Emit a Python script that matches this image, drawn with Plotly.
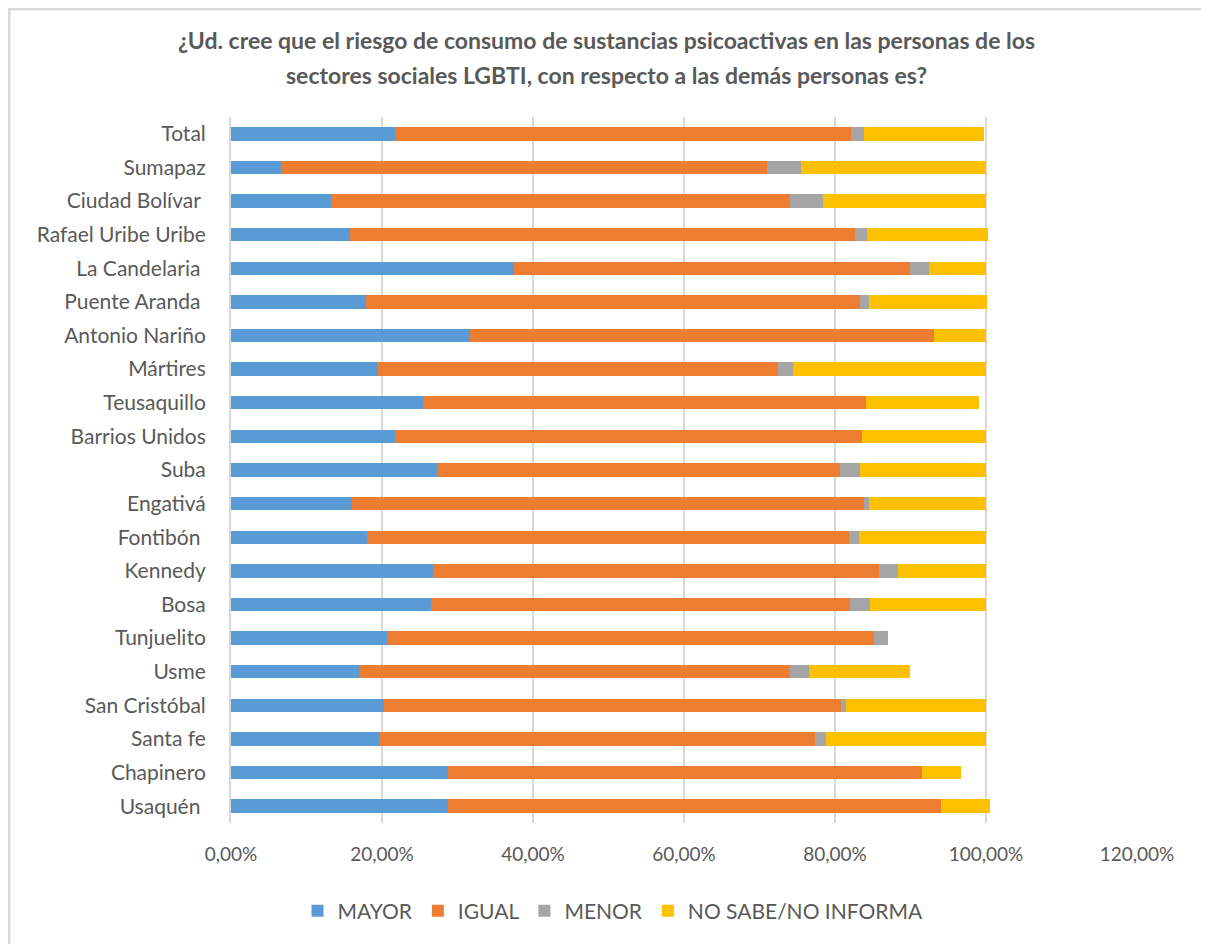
import plotly.graph_objects as go

categories = ["Total", "Sumapaz", "Ciudad Bolívar\u00a0", "Rafael Uribe Uribe", "La Candelaria\u00a0",
              "Puente Aranda\u00a0", "Antonio Nariño", "Mártires", "Teusaquillo", "Barrios Unidos",
              "Suba", "Engativá", "Fontibón\u00a0", "Kennedy", "Bosa", "Tunjuelito", "Usme",
              "San Cristóbal", "Santa fe", "Chapinero", "Usaquén\u00a0"]

mayor = [21.7, 6.65, 13.2, 15.8, 37.5, 17.9, 31.6, 19.5, 25.4, 21.7, 27.3, 16.0, 18.0, 26.7, 26.5,
         20.6, 16.9, 20.2, 19.6, 28.8, 28.8]
igual = [60.4, 64.4, 60.8, 66.8, 52.4, 65.4, 61.5, 53.0, 58.7, 61.9, 53.3, 67.9, 63.8, 59.1, 55.5,
         64.5, 57.1, 60.6, 57.7, 62.7, 65.3]
menor = [1.8, 4.5, 4.4, 1.6, 2.6, 1.2, 0.0, 2.0, 0.0, 0.0, 2.7, 0.6, 1.4, 2.6, 2.6,
         1.9, 2.6, 0.6, 1.5, 0.0, 0.0]
nsni = [15.9, 24.4, 21.6, 16.0, 7.5, 15.6, 6.9, 25.5, 15.0, 16.4, 16.7, 15.5, 16.8, 11.6, 15.4,
        0.0, 13.3, 18.6, 21.2, 5.2, 6.4]

title_lines = ["¿Ud. cree que el riesgo de consumo de sustancias psicoactivas en las personas de los",
               "sectores sociales LGBTI, con respecto a las demás personas es?"]

series = [("MAYOR", mayor, "#5B9BD5"), ("IGUAL", igual, "#ED7D31"),
          ("MENOR", menor, "#A5A5A5"), ("NO SABE/NO INFORMA", nsni, "#FFC000")]

fig = go.Figure()
for name, vals, color in series:
    fig.add_trace(go.Bar(
        y=categories, x=[v / 100 for v in vals], name=name, orientation="h",
        marker=dict(color=color, line=dict(width=0)),
    ))

# page body has an 8px margin; compensate so page coordinates match
OFF = 8
W, H = 1209 - OFF, 944 - OFF
ml, mr, mt, mb = 231 - OFF, 72, 117 - OFF, 121
pw, ph = W - ml - mr, H - mt - mb


def px_to_paper_x(page_x):
    return (page_x - OFF - ml) / pw


def px_to_paper_y(page_y):
    return (H - mb - (page_y - OFF)) / ph


fig.update_layout(
    width=W, height=H, barmode="stack", bargap=0.6,
    separators=",.",
    paper_bgcolor="white", plot_bgcolor="white",
    margin=dict(l=ml, r=mr, t=mt, b=mb),
    font=dict(family="Lato, Open Sans, sans-serif", color="#595959"),
    xaxis=dict(range=[0, 1.2], dtick=0.2, tick0=0, tickformat=".2%",
               showgrid=True, gridcolor="#D9D9D9", gridwidth=2,
               zeroline=False, showline=False, ticks="", ticklabelstandoff=18,
               tickfont=dict(size=19, color="#595959")),
    yaxis=dict(autorange="reversed", showgrid=False, showline=True, linecolor="#D9D9D9",
               linewidth=2, ticks="", ticklabelstandoff=19,
               tickfont=dict(size=21, color="#595959")),
    legend=dict(orientation="h", x=px_to_paper_x(613), xanchor="center",
                y=px_to_paper_y(911), yanchor="middle",
                font=dict(size=21, color="#595959"), traceorder="normal"),
    showlegend=True,
)

for i, (line, py) in enumerate(zip(title_lines, [40, 75])):
    fig.add_annotation(text="<b>" + line + "</b>", xref="paper", yref="paper",
                       x=px_to_paper_x(606), y=px_to_paper_y(py),
                       xanchor="center", yanchor="middle", showarrow=False,
                       font=dict(size=23, color="#595959", family="Lato, Open Sans, sans-serif"))

# outer chart border (top and left only visible)
fig.add_shape(type="line", xref="paper", yref="paper",
              x0=px_to_paper_x(OFF), x1=px_to_paper_x(1209), y0=px_to_paper_y(OFF + 1), y1=px_to_paper_y(OFF + 1),
              line=dict(color="#D9D9D9", width=3))
fig.add_shape(type="line", xref="paper", yref="paper",
              x0=px_to_paper_x(OFF + 1), x1=px_to_paper_x(OFF + 1), y0=px_to_paper_y(OFF), y1=px_to_paper_y(944),
              line=dict(color="#D9D9D9", width=3))

fig.write_html("out.html")
